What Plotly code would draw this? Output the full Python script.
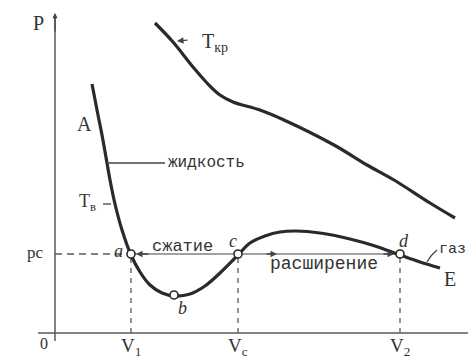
import plotly.graph_objects as go

# ---- data (arbitrary V, P units) ----
iso_V = [3.7, 4.2, 4.7, 5.2, 5.5, 6.0, 6.7, 7.6, 8.5, 9.5, 10.7, 12.0, 13.5, 15.0, 16.5,
         18.3, 19.5, 21.0, 22.5, 24.1, 26.5, 29.5, 32.0, 34.5, 36.5, 38.5]
iso_P = [24.9, 22.3, 19.8, 17.0, 15.3, 12.9, 10.3, 7.8, 6.1, 4.8, 4.0, 3.7, 3.9, 4.7, 6.0,
         7.8, 9.0, 9.7, 10.1, 10.2, 10.0, 9.4, 8.7, 7.8, 7.1, 6.5]
crit_V = [10.0, 11.8, 13.8, 15.2, 16.5, 17.8, 20.5, 22.9, 27.9, 31.2, 33.9, 37.5, 40.0]
crit_P = [31.0, 29.1, 26.6, 25.0, 23.8, 23.1, 22.3, 21.3, 18.8, 16.8, 15.3, 13.0, 11.5]
p_c = 7.9
V1, Vc, V2 = 7.6, 18.3, 34.5
b_V, b_P = 11.9, 3.8
pt_names = ["a", "b", "c", "d"]
tick_names = ["V<sub>1</sub>", "V<sub>c</sub>", "V<sub>2</sub>"]

INK = "#2a2a2a"
AX = "#5a5a5a"
SERIF = "Liberation Serif, Times New Roman, serif"
MONO = "Liberation Mono, Courier New, monospace"

fig = go.Figure()

# axes
fig.add_trace(go.Scatter(x=[-1.7, 41.3], y=[0, 0], mode="lines",
                         line=dict(color=AX, width=1.5), hoverinfo="skip"))
fig.add_trace(go.Scatter(x=[0, 0], y=[-0.8, 31.6], mode="lines",
                         line=dict(color=AX, width=1.5), hoverinfo="skip"))

# dashed guides
fig.add_trace(go.Scatter(x=[0, V1], y=[p_c, p_c], mode="lines",
                         line=dict(color=AX, width=1.3, dash="7px,5px"), hoverinfo="skip"))
for v in (V1, Vc, V2):
    fig.add_trace(go.Scatter(x=[v, v], y=[0, p_c], mode="lines",
                             line=dict(color=AX, width=1.3, dash="5px,5px"), hoverinfo="skip"))

# horizontal connecting line a-d
fig.add_trace(go.Scatter(x=[V1, V2], y=[p_c, p_c], mode="lines",
                         line=dict(color="#444", width=1.2), hoverinfo="skip"))

# curves
fig.add_trace(go.Scatter(x=crit_V, y=crit_P, mode="lines", line_shape="spline",
                         line=dict(color=INK, width=3.2), hoverinfo="skip"))
fig.add_trace(go.Scatter(x=iso_V, y=iso_P, mode="lines", line_shape="spline",
                         line=dict(color=INK, width=3.2), hoverinfo="skip"))

# leader lines
fig.add_trace(go.Scatter(x=[5.2, 11.0], y=[17.0, 17.0], mode="lines",
                         line=dict(color="#444", width=1.3), hoverinfo="skip"))
fig.add_trace(go.Scatter(x=[4.8, 5.6], y=[12.9, 12.9], mode="lines",
                         line=dict(color="#444", width=1.3), hoverinfo="skip"))
fig.add_trace(go.Scatter(x=[37.2, 37.6, 38.2], y=[7.1, 7.7, 8.3], mode="lines",
                         line_shape="spline", line=dict(color="#444", width=1.2),
                         hoverinfo="skip"))

# marked points
fig.add_trace(go.Scatter(x=[V1, b_V, Vc, V2], y=[p_c, b_P, p_c, p_c], mode="markers",
                         marker=dict(size=8, color="white", line=dict(color=INK, width=1.6)),
                         hoverinfo="skip"))

ann = []
def txt(x, y, t, size=16, font=SERIF, xanchor="center", italic=False, color="#333"):
    if italic:
        t = "<i>" + t + "</i>"
    ann.append(dict(x=x, y=y, text=t, showarrow=False, xanchor=xanchor, yanchor="middle",
                    font=dict(family=font, size=size, color=color)))

txt(-1.7, 31.0, "P", 20)
txt(-1.1, -1.0, "0", 16)
for v, n in zip((V1, Vc, V2), tick_names):
    txt(v, -1.4, n, 19)
txt(-2.0, 8.1, "pс", 17)
txt(2.9, 20.9, "A", 20)
txt(3.2, 13.1, "T<sub>в</sub>", 18)
txt(11.1, 17.0, "жидкость", 16, font=MONO, xanchor="left")
txt(14.5, 29.1, "T<sub>кр</sub>", 20, xanchor="left")
txt(12.7, 8.7, "сжатие", 17, font=MONO)
txt(26.9, 6.9, "расширение", 18, font=MONO)
for (x, y), n in zip([(6.3, 8.2), (12.7, 2.5), (17.8, 9.2), (34.9, 9.2)], pt_names):
    txt(x, y, n, 18, italic=True)
txt(41.3, 8.4, "газ", 15, font=MONO, xanchor="right")
txt(39.5, 5.4, "E", 20)

# arrows
def arrow(x, y, axv, ayv, size=1.0):
    ann.append(dict(x=x, y=y, ax=axv, ay=ayv, xref="x", yref="y", axref="x", ayref="y",
                    showarrow=True, arrowhead=2, arrowsize=size, arrowwidth=1.3,
                    arrowcolor="#444", text=""))

arrow(0, 32.0, 0, 30.0, 0.8)
arrow(8.1, p_c, 9.5, p_c)
arrow(22.2, p_c, 21.0, p_c)
arrow(33.9, p_c, 32.7, p_c)
arrow(12.2, 29.2, 13.4, 29.3)

fig.update_layout(
    width=468, height=358,
    margin=dict(l=0, r=0, t=0, b=0),
    paper_bgcolor="white", plot_bgcolor="white",
    showlegend=False,
    xaxis=dict(range=[-5.5, 41.3], visible=False, fixedrange=True),
    yaxis=dict(range=[-2.5, 33.3], visible=False, fixedrange=True),
    annotations=ann,
)

fig.write_html("out.html", config={"displayModeBar": False},
               post_script="document.body.style.margin='0';document.body.style.overflow='hidden';")
